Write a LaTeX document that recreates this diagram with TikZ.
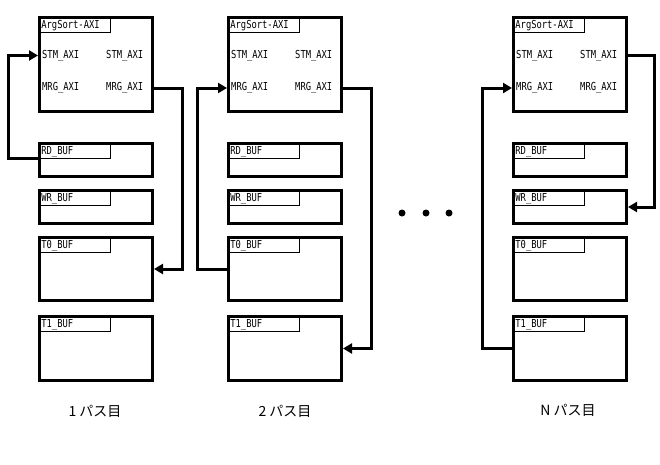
\documentclass[tikz,border=0pt]{standalone}
\usepackage{fontspec}
\newfontfamily\monof[FakeStretch=0.8]{DejaVu Sans Mono}
\newfontfamily\jpf{Noto Sans CJK JP}
\usetikzlibrary{arrows.meta,calc}
\tikzset{
  mainbox/.style={draw=black,line width=3pt,rectangle,anchor=north west,inner sep=0pt,minimum width=113pt,minimum height=94pt},
  bufbox/.style={draw=black,line width=3pt,rectangle,anchor=north west,inner sep=0pt,minimum width=113pt},
  titlebox/.style={draw=black,line width=0.8pt,rectangle,anchor=north west,inner xsep=3pt,inner ysep=3.5pt,text width=66pt,align=left,text height=8.5pt,text depth=0.5pt,font=\monof\fontsize{11}{12}\selectfont},
  lbl/.style={anchor=west,inner sep=0pt,font=\monof\fontsize{11}{12}\selectfont},
  conn/.style={draw=black,line width=3pt},
  arr/.style={conn,-{Triangle[length=9pt,width=10pt]}},
  passlbl/.style={font=\jpf\fontsize{14}{16}\selectfont,inner sep=0pt},
  dotnode/.style={circle,fill=black,inner sep=0pt,minimum size=7pt}
}
\newcommand\mypasscol[2]{%
  \node[mainbox] (m#2) at (38+#1,16) {};
  \node[titlebox] (mt#2) at (m#2.north west) {ArgSort-AXI};
  \node[lbl] (sl#2) at (42+#1,55.5) {STM\_AXI};
  \node[lbl] (sr#2) at (106+#1,55.5) {STM\_AXI};
  \node[lbl] (ml#2) at (42+#1,88) {MRG\_AXI};
  \node[lbl] (mr#2) at (106+#1,88) {MRG\_AXI};
  \node[bufbox,minimum height=33pt] (rd#2) at (38+#1,142) {};
  \node[titlebox] (rdt#2) at (rd#2.north west) {RD\_BUF};
  \node[bufbox,minimum height=33pt] (wr#2) at (38+#1,189) {};
  \node[titlebox] (wrt#2) at (wr#2.north west) {WR\_BUF};
  \node[bufbox,minimum height=63pt] (ta#2) at (38+#1,236) {};
  \node[titlebox] (tat#2) at (ta#2.north west) {T0\_BUF};
  \node[bufbox,minimum height=64pt] (tb#2) at (38+#1,315) {};
  \node[titlebox] (tbt#2) at (tb#2.north west) {T1\_BUF};
}
\begin{document}
\begin{tikzpicture}[x=1pt,y=-1pt]
\useasboundingbox (0,0) rectangle (660,464);
\fill[white] (0,0) rectangle (660,464);
\mypasscol{0}{1}
\mypasscol{189}{2}
\mypasscol{474}{3}
% pass 1
\coordinate (k1) at (8,55.5);
\draw[arr] (rdt1.south west) -| (k1) -- (m1.west |- sl1);
\coordinate (k2) at (182,88);
\draw[arr] (m1.east |- mr1) -- (k2) |- (ta1.east);
% pass 2
\coordinate (k3) at (197,88);
\draw[arr] (ta2.west) -| (k3) -- (m2.west |- ml2);
\coordinate (k4) at (371,88);
\draw[arr] (m2.east |- mr2) -- (k4) |- (tb2.east);
% pass N
\coordinate (k5) at (654,55.5);
\draw[arr] (m3.east |- sr3) -- (k5) |- (wr3.east);
\coordinate (k6) at (482,88);
\draw[arr] (tb3.west) -| (k6) -- (m3.west |- ml3);
% dots
\node[dotnode] (d1) at (402,213) {};
\node[dotnode] (d2) at (426,213) {};
\node[dotnode] (d3) at (449,213) {};
% labels
\node[passlbl] (p1) at (95,411) {1 パス目};
\node[passlbl] (p2) at (285,411) {2 パス目};
\node[passlbl] (p3) at (568,410) {N パス目};
\end{tikzpicture}
\end{document}
